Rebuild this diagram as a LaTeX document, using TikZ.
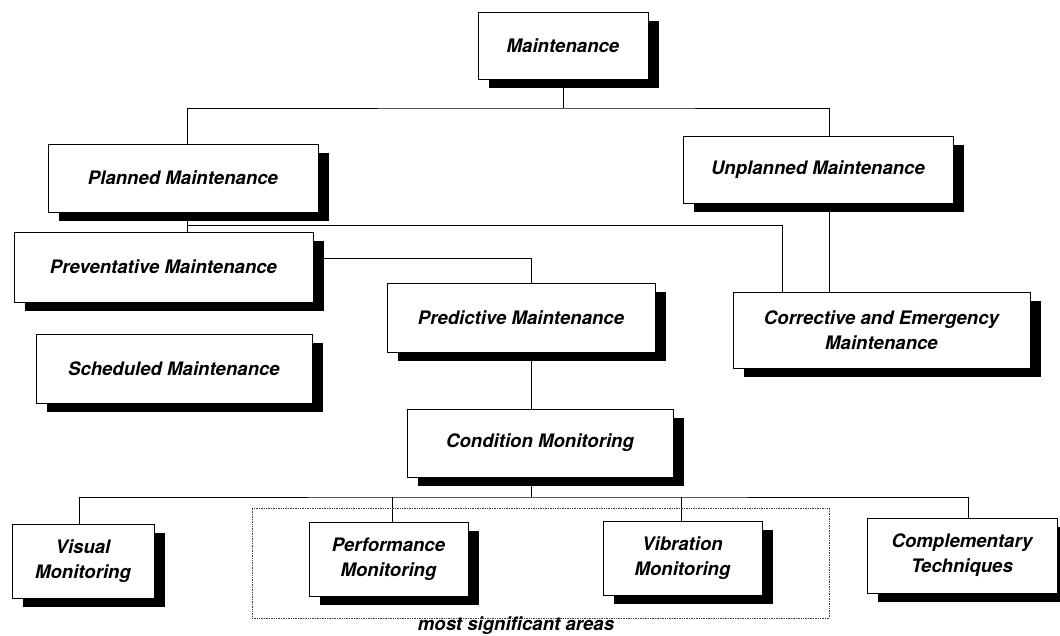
\documentclass[tikz,border=0pt]{standalone}
\usepackage{fontspec}
\setmainfont{TeX Gyre Heros}
\usetikzlibrary{shadows}
\pgfdeclarelayer{bg}
\pgfsetlayers{bg,main}
\begin{document}
\begin{tikzpicture}[x=1pt,y=-1pt,
  lbl/.style={font=\fontsize{18.6}{25}\selectfont\bfseries\itshape},
  box/.style={lbl, draw, line width=1pt, fill=white, inner sep=0pt, align=center,
    drop shadow={shadow xshift=11pt, shadow yshift=-9pt, fill=black, opacity=1}},
  conn/.style={line width=0.8pt},
  areabox/.style={draw=black!75, densely dotted, line width=0.7pt, inner sep=0pt},
  ]
\useasboundingbox (0,0) rectangle (1060,635);

\node[areabox, minimum width=577pt, minimum height=110pt] (area) at (540.5,563) {};
\node[lbl, inner sep=0pt] (sig) at (516,626) {most significant areas};

\node[box, minimum width=170pt, minimum height=67pt] (maint) at (563,45.5) {Maintenance};
\node[box, minimum width=270pt, minimum height=68pt] (plan) at (183,178) {Planned Maintenance};
\node[box, minimum width=270pt, minimum height=67pt] (unpl) at (818,169.5) {Unplanned Maintenance};
\node[box, minimum width=299pt, minimum height=70pt] (prev) at (163.5,267) {Preventative Maintenance};
\node[box, minimum width=276pt, minimum height=69pt] (sched) at (174,368.5) {Scheduled Maintenance};
\node[box, minimum width=268pt, minimum height=69pt] (pred) at (521,317.5) {Predictive Maintenance};
\node[box, minimum width=297pt, minimum height=76pt] (corr) at (881.5,330) {Corrective and Emergency\\Maintenance};
\node[box, minimum width=266pt, minimum height=68pt] (cond) at (540,443) {Condition Monitoring};
\node[box, minimum width=142pt, minimum height=74pt] (vis) at (83,561) {Visual\\Monitoring};
\node[box, minimum width=159pt, minimum height=74pt] (perf) at (388.5,559) {Performance\\Monitoring};
\node[box, minimum width=159pt, minimum height=74pt] (vib) at (682.5,558) {Vibration\\Monitoring};
\node[box, minimum width=190pt, minimum height=75pt] (comp) at (962,555.5) {Complementary\\Techniques};

\begin{pgfonlayer}{bg}
\fill[white] (0,0) rectangle (1060,635);
\coordinate (j1) at (564,108);
\draw[conn] (maint.south) -- (maint.south |- j1);
\draw[conn] ([xshift=4pt]plan.north) |- (j1) -| ([xshift=11pt]unpl.north);
\draw[conn] ([xshift=4pt]plan.south) -- ([xshift=4pt]plan.south |- prev.north);
\coordinate (j2) at (187,225);
\draw[conn] (j2) -| ([xshift=-99.5pt]corr.north);
\draw[conn] ([xshift=11pt]unpl.south) -- ([xshift=11pt]unpl.south |- corr.north);
\draw[conn] ([yshift=9pt]prev.east) -| ([xshift=10pt]pred.north);
\draw[conn] ([xshift=10pt]pred.south) -- ([xshift=10pt]pred.south |- cond.north);
\coordinate (busC) at (531,497);
\draw[conn] ([xshift=-9pt]cond.south) -- (busC);
\draw[conn] ([xshift=-4pt]vis.north) |- (busC) -| ([xshift=6pt]comp.north);
\draw[conn] ([xshift=3.5pt]perf.north) -- ([xshift=3.5pt]perf.north |- busC);
\draw[conn] ([xshift=-1.5pt]vib.north) -- ([xshift=-1.5pt]vib.north |- busC);
\end{pgfonlayer}
\end{tikzpicture}
\end{document}
